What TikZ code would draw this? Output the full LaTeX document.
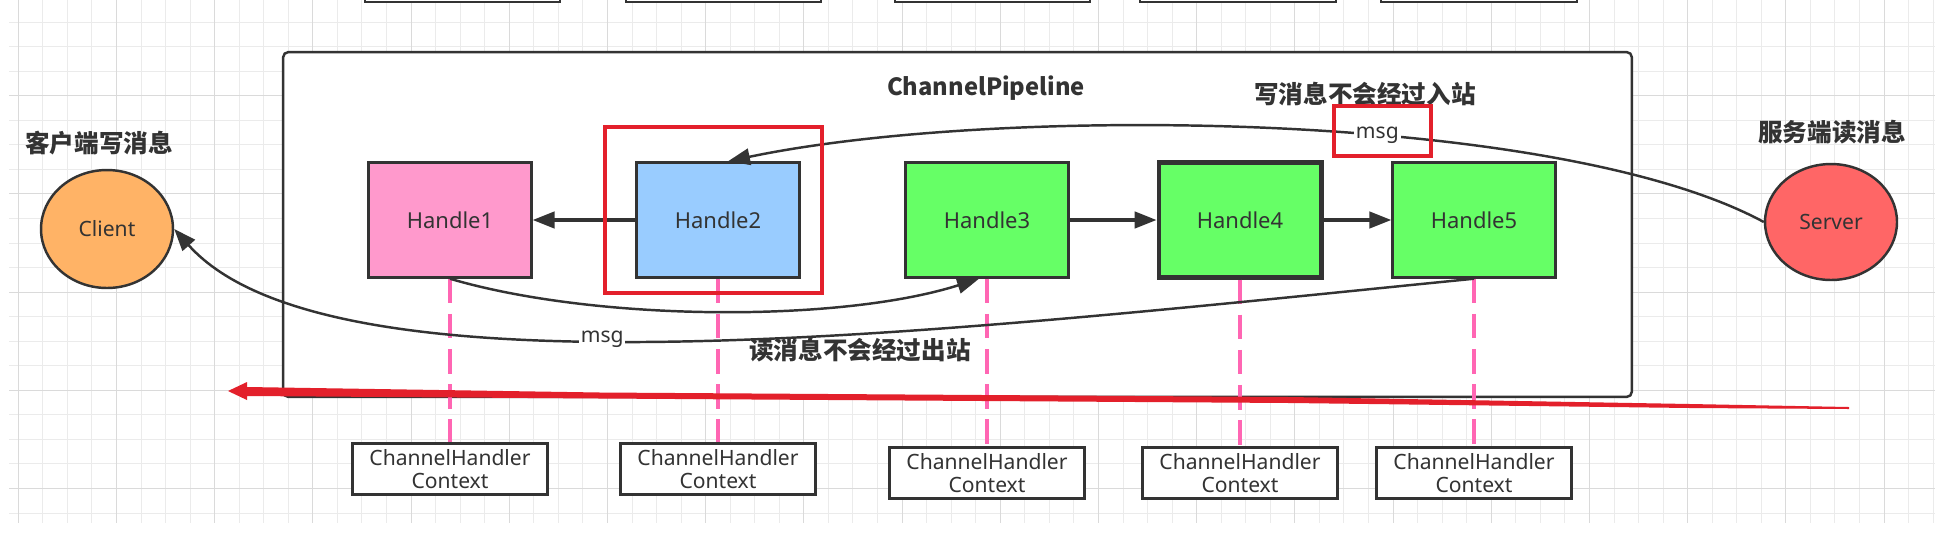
\documentclass[tikz,border=0pt]{standalone}
\usepackage{fontspec}
\setmainfont{Noto Sans}
\newfontfamily\cjk{Noto Sans CJK SC}
\usetikzlibrary{arrows.meta, shapes.geometric}
\definecolor{dkline}{HTML}{333333}
\definecolor{txtgray}{HTML}{333333}
\definecolor{h1pink}{HTML}{FF99CC}
\definecolor{h2blue}{HTML}{99CCFF}
\definecolor{hgreen}{HTML}{66FF66}
\definecolor{clientorange}{HTML}{FFB366}
\definecolor{serverred}{HTML}{FF6666}
\definecolor{linkpink}{HTML}{FF66B3}
\definecolor{markred}{HTML}{E3202B}
\definecolor{gridminor}{HTML}{EBEBEB}
\definecolor{gridmajor}{HTML}{DADADA}

\begin{document}
\begin{tikzpicture}[x=0.02cm, y=-0.02cm,
  >={Triangle[length=4.4mm, width=3.3mm]},
  handle/.style={draw=dkline, line width=1.4pt, minimum width=3.26cm,
    minimum height=2.3cm, inner sep=0pt, text=txtgray,
    font=\fontsize{12.5}{14}\selectfont},
  ctxbox/.style={draw=dkline, line width=1.2pt, fill=white, minimum width=3.9cm,
    minimum height=1.02cm, inner sep=0pt, align=center, text=txtgray,
    font=\fontsize{12}{13.5}\selectfont},
  endpoint/.style={ellipse, draw=dkline, line width=1.4pt, minimum width=2.64cm,
    minimum height=2.36cm, inner sep=0pt, text=txtgray,
    font=\fontsize{12}{14}\selectfont},
  caption/.style={text=txtgray, font=\fontsize{14}{16}\selectfont\cjk\bfseries},
  flow/.style={->, draw=dkline, line width=1.8pt},
  msgpath/.style={->, draw=dkline, line width=1.4pt},
  msglabel/.style={fill=white, inner sep=1pt, text=txtgray,
    font=\fontsize{12}{14}\selectfont},
  ctxlink/.style={draw=linkpink, line width=2pt, dash pattern=on 14pt off 6pt},
  hilite/.style={draw=markred, line width=2pt},
  gridline/.style={draw=gridminor, line width=0.5pt}]

% Canvas
\clip (0,0) rectangle (1939,542);
\fill[white] (0,0) rectangle (1939,542);

% Background grid
\foreach \i in {0,...,78}
  \draw[gridline] ({18.2+24.55*\i},0) -- ({18.2+24.55*\i},523);
\foreach \j in {0,...,20}
  \draw[gridline] (9,{22+24.55*\j}) -- (1935,{22+24.55*\j});
\foreach \i in {0,4,...,76}
  \draw[gridline, draw=gridmajor] ({18.2+24.55*\i},0) -- ({18.2+24.55*\i},523);
\foreach \j in {3,7,...,19}
  \draw[gridline, draw=gridmajor] (9,{22+24.55*\j}) -- (1935,{22+24.55*\j});

% Boxes cut off at the top
\draw[dkline, line width=1.2pt, fill=white] (365,-40) rectangle (560,2);
\draw[dkline, line width=1.2pt, fill=white] (626,-40) rectangle (821,2);
\draw[dkline, line width=1.2pt, fill=white] (895,-40) rectangle (1090,2);
\draw[dkline, line width=1.2pt, fill=white] (1140,-40) rectangle (1336,2);
\draw[dkline, line width=1.2pt, fill=white] (1381,-40) rectangle (1577,2);

% Pipeline frame
\node[draw=dkline, line width=1.4pt, fill=white, rounded corners=3pt,
      minimum width=26.98cm, minimum height=6.9cm, inner sep=0pt]
  (pipe) at (957.5,224.5) {};
\node[text=txtgray, font=\fontsize{13.5}{16}\selectfont\cjk\bfseries]
  (pipetitle) at (986,88) {ChannelPipeline};

% --- Handlers ---
\node[handle, fill=h1pink] (h1) at (450,220) {Handle1};
\node[handle, fill=h2blue] (h2) at (718,220) {Handle2};
\node[handle, fill=hgreen] (h3) at (987,220) {Handle3};
\node[handle, fill=hgreen, line width=2.3pt] (h4) at (1240,220) {Handle4};
\node[handle, fill=hgreen] (h5) at (1474,220) {Handle5};

% --- Contexts ---
\node[ctxbox] (ctx1) at (450,469) {ChannelHandler\\Context};
\node[ctxbox] (ctx2) at (718,469) {ChannelHandler\\Context};
\node[ctxbox] (ctx3) at (987,473) {ChannelHandler\\Context};
\node[ctxbox] (ctx4) at (1240,473) {ChannelHandler\\Context};
\node[ctxbox] (ctx5) at (1474,473) {ChannelHandler\\Context};

\draw[ctxlink] (h1) -- (ctx1);
\draw[ctxlink] (h2) -- (ctx2);
\draw[ctxlink] (h3) -- (ctx3);
\draw[ctxlink] (h4) -- (ctx4);
\draw[ctxlink] (h5) -- (ctx5);

% --- Client and server ---
\node[endpoint, fill=clientorange] (client) at (107,229) {Client};
\node[caption] (clientlabel) at (99,143) {客户端写消息};
\node[endpoint, fill=serverred, minimum height=2.32cm] (server) at (1831,222) {Server};
\node[caption] (serverlabel) at (1832,132) {服务端读消息};

% --- Handler chain ---
\draw[flow] (h2) -- (h1);
\draw[flow] (h3) -- (h4);
\draw[flow] (h4) -- (h5);

% --- Message paths ---
\draw[msgpath] (server.west) .. controls +(-205,-111) and +(272,-57)
  .. ([xshift=0.2cm]h2.north) node[msglabel, pos=0.41] (msgtop) {msg};
\draw[msgpath] (h1.south) .. controls +(146,43) and +(-139,44)
  .. ([xshift=-0.16cm]h3.south);
\draw[msgpath] (h5.south) .. controls +(-524,52) and +(157,176)
  .. (client.east) node[msglabel, pos=0.56] (msgbottom) {msg};

\node[caption] (writenote) at (1365,94) {写消息不会经过入站};
\node[caption] (readnote) at (860,350) {读消息不会经过出站};

% --- Red marks ---
\draw[hilite] (605,127) rectangle (822,293);
\draw[hilite] (1334,106) rectangle (1431,156);
\fill[markred] (228,391) -- (247,382) -- (247,387) -- (600,392.5) -- (1290,397)
  -- (1690,404) -- (1849,407) -- (1849,409) -- (1690,408) -- (1290,403)
  -- (600,398.5) -- (247,396) -- (247,400) -- cycle;

\end{tikzpicture}
\end{document}
